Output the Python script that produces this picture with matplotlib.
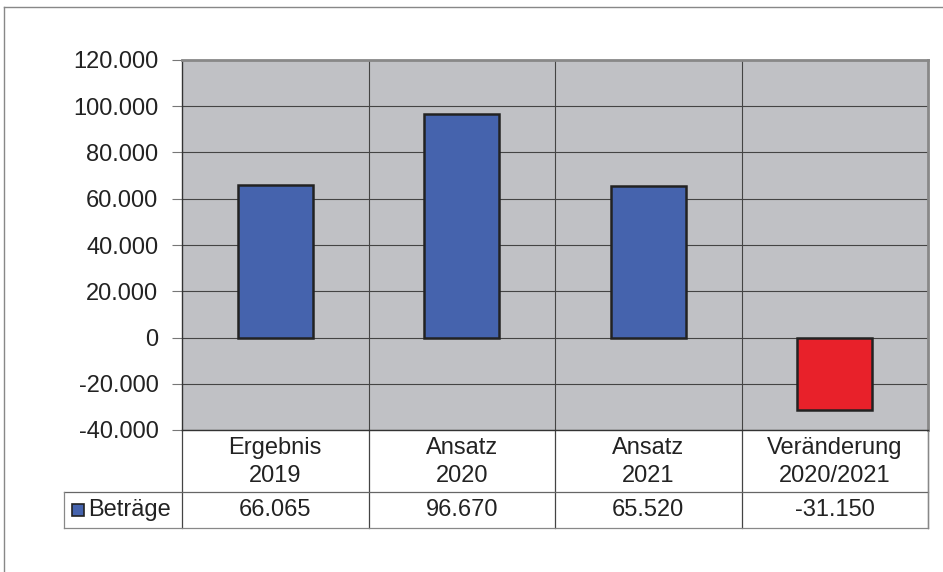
import numpy as np
import matplotlib.pyplot as plt
from matplotlib.patches import Rectangle
from matplotlib.transforms import blended_transform_factory

categories = ["Ergebnis\n2019", "Ansatz\n2020", "Ansatz\n2021", "Veränderung\n2020/2021"]
values = [66065, 96670, 65520, -31150]
value_labels = ["66.065", "96.670", "65.520", "-31.150"]
series_name = "Betr\u00e4ge"
yticks = [-40000, -20000, 0, 20000, 40000, 60000, 80000, 100000, 120000]

blue = "#4563ad"
red = "#e8212a"
plt.rcParams['font.family'] = ['Liberation Sans', 'DejaVu Sans']
fs = 17

fig = plt.figure(figsize=[9.43, 5.72], dpi=100)
ax = fig.add_axes([182/943, 1-430/572, 746/943, 370/572])
ax.set_facecolor("#c0c1c5")

x = np.arange(len(categories))
colors = [blue if v >= 0 else red for v in values]
ax.bar(x, values, width=0.4, color=colors, edgecolor="#222222", linewidth=1.8, zorder=3)

ax.set_xlim(-0.5, len(categories)-0.5)
ax.set_ylim(-40000, 120000)
ax.set_yticks(yticks)
ax.set_yticklabels([f"{t:,}".replace(",", ".") for t in yticks], fontsize=fs, color="#222222")
ax.tick_params(axis="y", length=7, width=0.8, color="#777777", pad=10)
ax.set_xticks([])
ax.grid(axis="y", color="#444444", linewidth=0.8, zorder=1)
for xi in np.arange(0.5, len(categories)-0.5):
    ax.axvline(xi, color="#444444", linewidth=0.8, zorder=1)
for s in ["left", "bottom"]:
    ax.spines[s].set_color("#333333")
    ax.spines[s].set_linewidth(1.0)
for s in ["right", "top"]:
    ax.spines[s].set_color("#888888")
    ax.spines[s].set_linewidth(2.0)

# data table below the plot
tr = blended_transform_factory(ax.transData, ax.transAxes)
row1 = -62/370
row2 = -98/370
legx = (64-182)/746
line_kw = dict(transform=ax.transAxes, clip_on=False, linewidth=0.9)
for xb in np.arange(-0.5, len(categories)):
    ax.plot([xb, xb], [0, row2], color="#444444", transform=tr, clip_on=False, linewidth=0.9)
ax.plot([legx, 1], [row1, row1], color="#666666", **line_kw)
ax.plot([legx, 1], [row2, row2], color="#888888", **line_kw)
ax.plot([legx, legx], [row1, row2], color="#888888", **line_kw)
ax.plot([1, 1], [0, row2], color="#888888", **line_kw)

for xi, c in zip(x, categories):
    ax.text(xi, row1/2 - 1/370, c, transform=tr, ha="center", va="center", fontsize=fs,
            linespacing=1.3, color="#222222")
for xi, v in zip(x, value_labels):
    ax.text(xi, (row1+row2)/2, v, transform=tr, ha="center", va="center", fontsize=fs,
            color="#222222")

ax.add_patch(Rectangle((legx + 8/746, (row1+row2)/2 - 6/370), 12/746, 12/370,
                       transform=ax.transAxes, facecolor=blue, edgecolor="#222222",
                       linewidth=1.2, clip_on=False))
ax.text(legx + 24/746, (row1+row2)/2, series_name, transform=ax.transAxes,
        ha="left", va="center", fontsize=fs, color="#222222")

# outer chart frame
fig.add_artist(plt.Line2D([4/943, 1], [1-7/572, 1-7/572], color="#888888", linewidth=1.0))
fig.add_artist(plt.Line2D([4/943, 4/943], [0, 1-7/572], color="#888888", linewidth=1.0))

plt.savefig("out.png", dpi=100)
